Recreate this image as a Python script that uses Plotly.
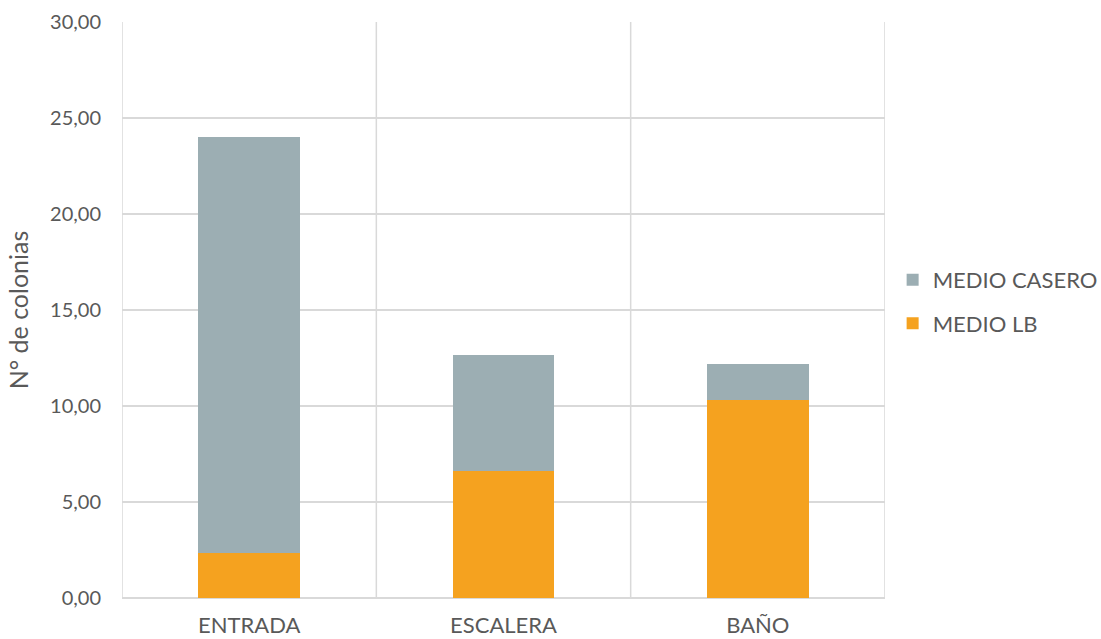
import plotly.graph_objects as go

categories = ["ENTRADA", "ESCALERA", "BAÑO"]
medio_lb = [2.32, 6.61, 10.30]
medio_casero = [21.68, 6.03, 1.87]

FONT = "Lato, 'Open Sans', sans-serif"
TEXT = "#595959"
GRID = "#d9d9d9"

x_pos = list(range(len(categories)))
boundaries = [i - 0.5 for i in range(len(categories) + 1)]

fig = go.Figure()
fig.add_trace(go.Bar(
    name="MEDIO LB", x=x_pos, y=medio_lb, legendgroup="lb", legendrank=2,
    marker=dict(color="#f5a21f", line=dict(width=0)), width=0.4,
))
fig.add_trace(go.Bar(
    name="MEDIO CASERO", x=x_pos, y=medio_casero, legendgroup="casero", legendrank=1,
    marker=dict(color="#9caeb3", line=dict(width=0)), width=0.4,
))

# vertical separators between categories, including the outer frame edges
for b in boundaries:
    fig.add_shape(type="line", xref="x", yref="paper", x0=b, x1=b, y0=0, y1=1,
                  line=dict(color=GRID, width=1.5), layer="below")

fig.update_layout(
    barmode="stack",
    width=1101, height=639,
    margin=dict(l=122, r=216, t=22, b=41, autoexpand=False),
    paper_bgcolor="white", plot_bgcolor="white",
    font=dict(family=FONT, color=TEXT, size=20),
    separators=",.",
    legend=dict(
        x=1.01, y=0.514, xanchor="left", yanchor="middle",
        traceorder="grouped", font=dict(size=22, color=TEXT),
        itemsizing="constant", tracegroupgap=12,
    ),
    xaxis=dict(
        range=[-0.5, len(categories) - 0.5],
        tickvals=x_pos, ticktext=categories,
        showgrid=False, zeroline=False, showline=False, ticks="",
        tickfont=dict(size=22, color=TEXT),
        ticklabelstandoff=12, automargin=False,
    ),
    yaxis=dict(
        range=[0, 30], dtick=5, tickformat=".2f",
        showgrid=True, gridcolor=GRID, gridwidth=1.5,
        zeroline=True, zerolinecolor=GRID, zerolinewidth=1.5,
        showline=False, ticks="",
        tickfont=dict(size=20, color=TEXT),
        ticklabelstandoff=20, automargin=False,
        title=dict(text="N° de colonias", font=dict(size=25, color=TEXT), standoff=14),
    ),
)

fig.write_html("out.html")
